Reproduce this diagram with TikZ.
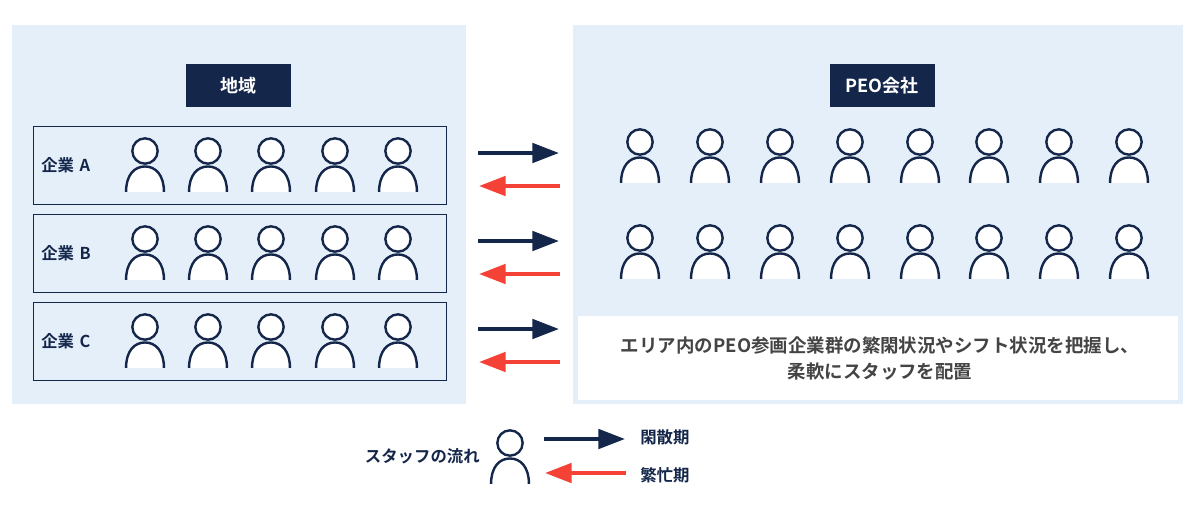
\documentclass[tikz,border=0pt]{standalone}
\usepackage{fontspec}
\setmainfont{Noto Sans CJK JP Bold}
\usetikzlibrary{
  arrows.meta, % for the triangle arrow tips
}
\definecolor{navy}{HTML}{14274A}
\definecolor{panelblue}{HTML}{E5EFFA}
\definecolor{busyred}{HTML}{F44336}
\definecolor{notegray}{HTML}{444444}
\tikzset{
  panel/.style={ % style for the two pale areas
    rectangle,fill=panelblue,inner sep=0pt,anchor=north west,
  },
  header/.style={ % style for the dark titles
    rectangle,fill=navy,text=white,inner sep=0pt,font=\fontsize{13.5}{16}\selectfont,
    minimum height=32.25pt,
  },
  company/.style={ % style for the company rows
    rectangle,draw=navy,line width=1pt,inner sep=0pt,anchor=north west,
    minimum width=309.75pt,minimum height=58.5pt,
  },
  label/.style={ % style for the small texts
    text=navy,inner sep=0pt,font=\fontsize{12.3}{15}\selectfont,
  },
  slack/.style={ % style for the arrows to the right
    -{Triangle[length=20pt,width=14.5pt]},draw=navy,line width=3pt,
  },
  busy/.style={ % style for the arrows to the left
    -{Triangle[length=20pt,width=14.5pt]},draw=busyred,line width=3pt,
  },
  person/.pic={ % head at the origin of the pic
    \draw[navy,line width=1.8pt,fill=white] (0,0) circle (9.5pt);
    \draw[navy,line width=1.8pt,fill=white,line cap=butt]
      (-14.2pt,-30.6pt) .. controls (-14.2pt,-18pt) and (-8pt,-11.6pt) .. (0,-11.6pt)
      .. controls (8pt,-11.6pt) and (14.2pt,-18pt) .. (14.2pt,-30.6pt);
  },
}

\begin{document}
\begin{tikzpicture}[x=0.75pt,y=-0.75pt]
	\useasboundingbox (0,0) rectangle (1200,515);

	\node[panel,minimum width=340.5pt,minimum height=284.25pt] (area) at (12,25) {};
	\node[panel,minimum width=457.5pt,minimum height=284.25pt] (peo) at (573,25) {};

	\node[header,minimum width=78.75pt] (areatitle) at (238.5,85.5) {地域};
	\node[header,minimum width=78.75pt] (peotitle) at (882,85.5) {PEO会社};

	% company rows with their staff
	\foreach \row/\name/\y in {a/A/126,b/B/214,c/C/302}{
		\node[company] (row\row) at (33,\y) {};
		\node[label,anchor=west] (name\row) at (41,\y+39.5) {企業\,\,\name};
		\foreach \i/\x in {1/145,2/208,3/271,4/335,5/398}
			\pic (staff\row\i) at (\x,\y+25) {person};
		\coordinate (out\row) at (478,\y+27);
		\coordinate (into\row) at (559,\y+27);
		\coordinate (back\row) at (560,\y+60);
		\coordinate (ret\row) at (479,\y+60);
		\draw[slack] (out\row) -- (into\row);
		\draw[busy] (back\row) -- (ret\row);
	}

	% staff pool
	\foreach \y [count=\r] in {142,238}
		\foreach \x [count=\i] in {640,710,780,850,920,989,1059,1129}
			\pic (pool\r\i) at (\x,\y) {person};

	\node[panel,fill=white,minimum width=450pt,minimum height=63pt] (note) at (578,316) {};
	\node[label,text=notegray,align=center,font=\fontsize{13.85}{19.5}\selectfont] (notetext) at (880,358)
		{エリア内のPEO参画企業群の繁閑状況やシフト状況を把握し、\\柔軟にスタッフを配置};

	% legend
	\node[label,anchor=east] (legend) at (480,456) {スタッフの流れ};
	\pic (legendstaff) at (510,443) {person};
	\coordinate (legout) at (544,439);
	\coordinate (legin) at (625,439);
	\coordinate (legback) at (626,473);
	\coordinate (legret) at (545,473);
	\draw[slack] (legout) -- (legin);
	\draw[busy] (legback) -- (legret);
	\node[label,anchor=west] (slacktext) at (640,437) {閑散期};
	\node[label,anchor=west] (busytext) at (640,475) {繁忙期};

\end{tikzpicture}
\end{document}
